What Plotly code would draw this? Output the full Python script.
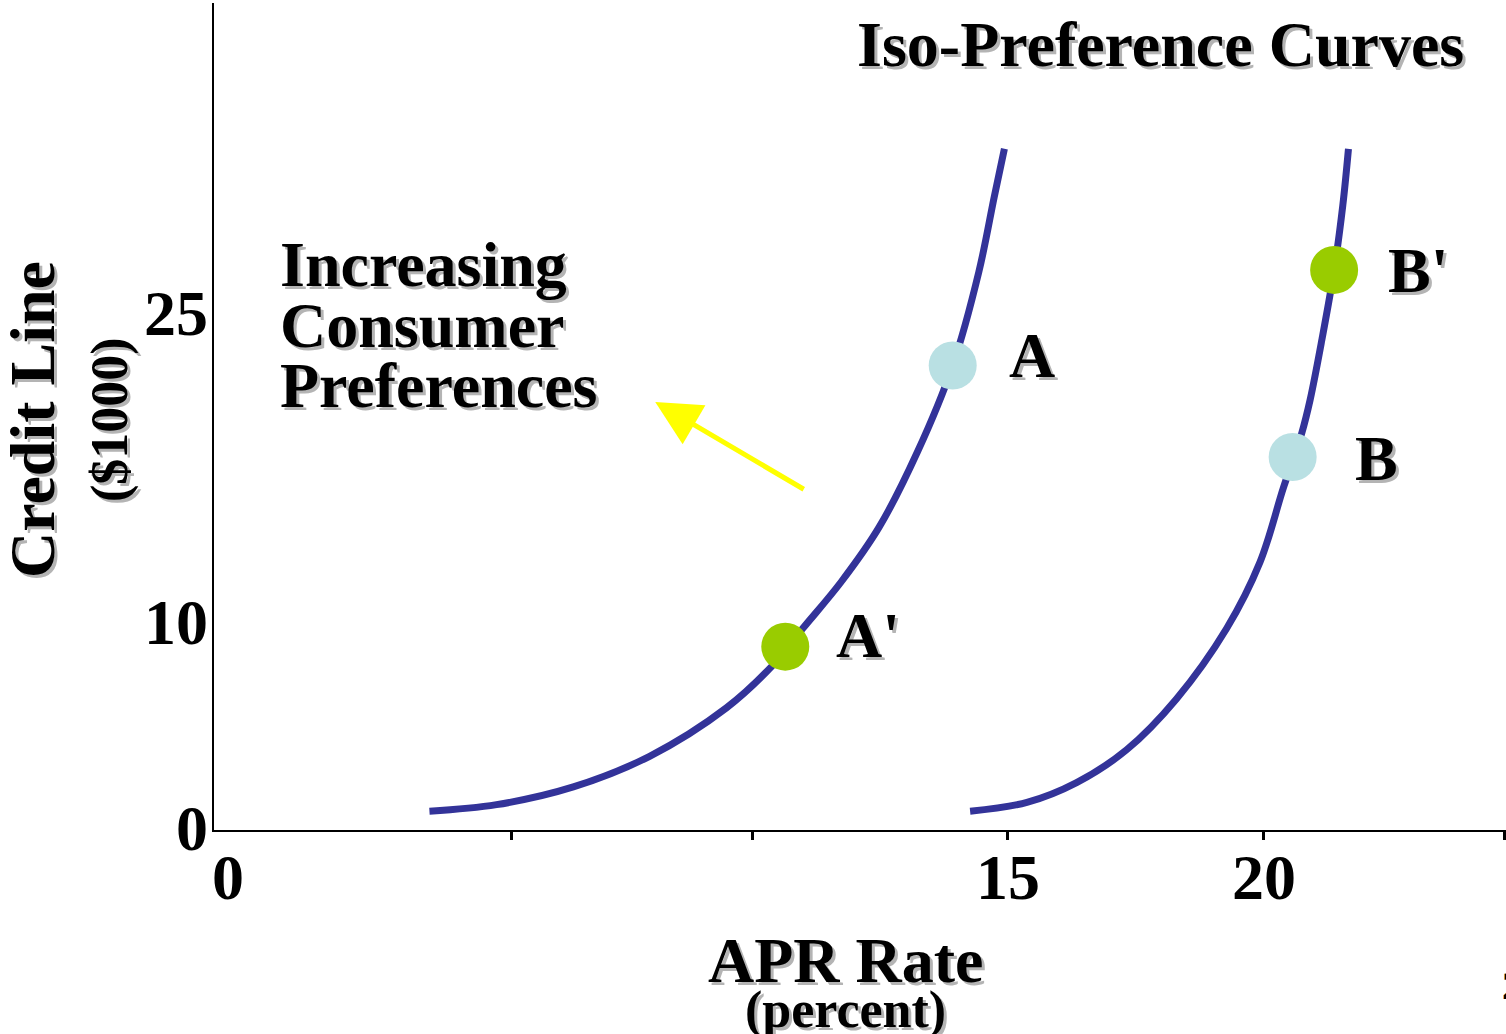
import plotly.graph_objects as go

# Iso-preference curve 1 (APR %, credit line $1000)
curve1_apr = [3.70, 5.01, 6.51, 8.00, 9.50, 10.39, 10.99, 11.74, 12.48, 13.23, 13.92, 14.43, 14.73, 14.93]
curve1_credit = [0.91, 1.23, 2.09, 3.58, 5.93, 7.96, 9.78, 12.04, 14.69, 18.35, 22.55, 27.09, 30.72, 33.07]

# Iso-preference curve 2
curve2_apr = [14.26, 15.37, 16.34, 17.32, 18.29, 19.27, 19.92, 20.38, 20.74, 20.90, 21.13, 21.37, 21.54, 21.65]
curve2_credit = [0.91, 1.34, 2.30, 3.90, 6.36, 9.78, 12.99, 16.62, 19.29, 20.87, 23.79, 27.18, 30.34, 33.07]

# Labelled offers on the curves
point_names = ["A", "A'", "B", "B'"]
point_apr = [13.92, 10.65, 20.56, 21.37]
point_credit = [22.55, 8.9, 18.11, 27.19]
point_colors = ["#b9e0e3", "#99cc00", "#b9e0e3", "#99cc00"]

# Axis ticks
x_tickvals = [5.3, 10, 15, 20, 24.7]
x_ticktext = ["", "", "15", "20", ""]
y_tickvals = [0, 10, 25]
y_ticktext = ["0", "10", "25"]

W, H = 1506, 1034
L, R, T, B = 214, 0, 3, 204
SERIF = "Liberation Serif, Times New Roman, serif"
CURVE = "#333399"
SHADOW = "#b4b4b4"

fig = go.Figure()
for xs, ys in ((curve1_apr, curve1_credit), (curve2_apr, curve2_credit)):
    fig.add_trace(go.Scatter(x=xs, y=ys, mode="lines",
                             line=dict(color=CURVE, width=7, shape="spline", smoothing=1.0),
                             hoverinfo="skip"))
fig.add_trace(go.Scatter(x=point_apr, y=point_credit, mode="markers",
                         marker=dict(size=48, color=point_colors, line=dict(width=0)),
                         text=point_names, hoverinfo="text"))

annotations = []


def px_to_paper(px, py):
    return (px - L) / (W - L - R), (H - B - py) / (H - B - T)


def shadow_text(text, px, py, size, xanchor="center", angle=0, shadow=True):
    x, y = px_to_paper(px, py)
    common = dict(xref="paper", yref="paper", x=x, y=y, text=text, showarrow=False,
                  xanchor=xanchor, yanchor="middle", textangle=angle)
    if shadow:
        annotations.append(dict(**common, xshift=3, yshift=-3,
                                font=dict(family=SERIF, size=size, color=SHADOW, weight="bold")))
    annotations.append(dict(**common, font=dict(family=SERIF, size=size, color="black", weight="bold")))


shadow_text("Iso-Preference Curves", 1160, 44, 64)
shadow_text("Increasing", 278, 264, 64, xanchor="left")
shadow_text("Consumer", 278, 325, 64, xanchor="left")
shadow_text("Preferences", 278, 385, 64, xanchor="left")
shadow_text("APR Rate", 845, 960, 64)
shadow_text("(percent)", 845, 1010, 52)
shadow_text("Credit Line", 32, 420, 64, angle=-90)
shadow_text("($1000)", 110, 420, 52, angle=-90)

# Point labels
label_pos = {"A": (1032, 355), "A'": (868, 635), "B": (1376, 458), "B'": (1418, 270)}
for name in point_names:
    shadow_text(name, *label_pos[name], 64)

# Tick labels, placed just off each axis line
TICK_FONT = dict(family=SERIF, size=64, color="black", weight="bold")
for v, t in zip(x_tickvals, x_ticktext):
    if t:
        annotations.append(dict(xref="x", yref="paper", x=v, y=0, yshift=-47, text=t,
                                showarrow=False, xanchor="center", yanchor="middle",
                                font=TICK_FONT))
annotations.append(dict(xref="paper", yref="paper", x=0, y=0, xshift=14, yshift=-47, text="0",
                        showarrow=False, xanchor="center", yanchor="middle", font=TICK_FONT))
for v, t in zip(y_tickvals, y_ticktext):
    annotations.append(dict(xref="paper", yref="y", x=0, y=v, xshift=-4, yshift=2, text=t,
                            showarrow=False, xanchor="right", yanchor="middle", font=TICK_FONT))

# Slide number at the page edge
shadow_text("2", 1500, 985, 40, xanchor="left", shadow=False)

# Direction of increasing preference
annotations.append(dict(x=8.11, y=20.78, ax=11.04, ay=16.5, xref="x", yref="y",
                        axref="x", ayref="y", showarrow=True, arrowhead=2,
                        arrowsize=1.8, arrowwidth=5, arrowcolor="#ffff00",
                        standoff=0, startstandoff=0, text=""))

fig.update_layout(
    width=W, height=H,
    margin=dict(l=L, r=R, t=T, b=B),
    paper_bgcolor="white", plot_bgcolor="white",
    showlegend=False,
    annotations=annotations,
    xaxis=dict(range=[-0.508, 24.727], showgrid=False, zeroline=False,
               showline=True, linecolor="black", linewidth=2,
               tickvals=x_tickvals, showticklabels=False,
               ticks="outside", ticklen=8, tickwidth=3, tickcolor="black"),
    yaxis=dict(range=[0, 40.15], showgrid=False, zeroline=False,
               showline=True, linecolor="black", linewidth=2,
               tickvals=y_tickvals, showticklabels=False, ticks=""),
)

fig.write_html("out.html")
